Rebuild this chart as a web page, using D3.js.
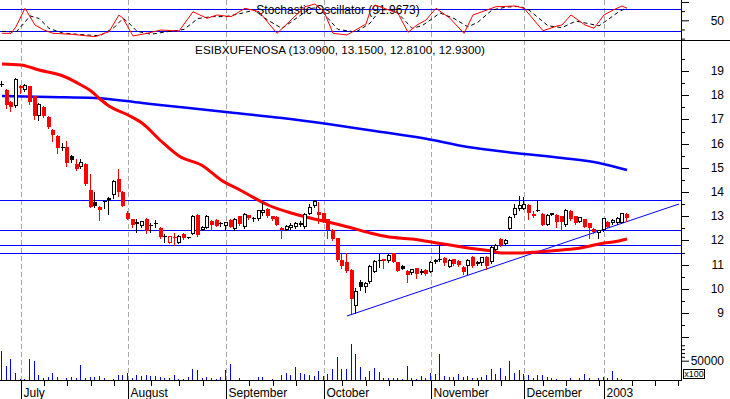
<!DOCTYPE html>
<html>
<head>
<meta charset="utf-8">
<script src="https://cdn.jsdelivr.net/npm/d3@7"></script>
<style>
  body { margin: 0; background: #fff; }
  svg { display: block; font-family: "Liberation Sans", Arial, sans-serif; }
</style>
</head>
<body>
<svg id="chart" width="730" height="399"></svg>
<script>
// daily bars, late June 2002 .. early January 2003 (trading-day index 0..134)
const opens = [18.43,18.20,17.71,17.54,18.29,18.23,18.37,17.96,17.13,17.52,17.10,16.58,16.33,15.84,15.86,15.47,15.17,15.03,15.17,14.09,
  13.60,13.40,13.60,13.65,13.86,14.55,14.02,13.15,12.88,12.67,12.61,12.89,12.60,12.68,12.51,12.14,11.91,12.10,11.91,12.27,
  12.10,12.26,13.06,12.44,12.51,12.80,12.85,12.66,12.61,12.85,12.48,12.99,12.55,13.03,12.87,12.90,13.12,13.30,13.00,12.98,
  12.52,12.44,12.50,12.56,12.62,12.55,13.10,13.44,13.17,13.13,12.88,12.44,12.09,11.19,11.12,10.78,9.30,10.27,10.09,10.30,
  10.71,11.15,11.22,11.15,11.47,11.10,10.95,10.75,10.67,10.85,10.64,10.78,10.71,11.10,11.20,11.26,10.92,11.22,11.15,10.92,
  10.95,11.33,11.02,11.06,11.30,11.10,11.62,12.05,11.86,12.47,13.06,13.29,13.30,13.47,13.02,13.24,13.10,12.64,13.07,13.06,
  12.99,12.64,13.22,12.99,12.78,12.88,12.71,12.47,12.30,12.41,12.78,12.71,12.71,12.72,13.09];
const highs = [18.58,18.26,17.75,18.72,18.44,18.46,18.40,17.98,17.68,17.55,17.12,16.60,16.35,16.03,16.12,15.54,15.36,15.38,15.20,14.74,
  14.00,13.42,13.63,13.78,14.50,14.96,14.05,13.20,12.90,12.89,12.82,12.92,12.72,12.85,12.55,12.26,12.20,12.32,12.21,12.30,
  12.16,13.04,13.08,12.60,13.04,12.86,12.88,12.75,12.78,12.88,12.92,13.00,13.12,13.05,12.98,13.26,13.55,13.32,13.02,13.00,
  12.55,12.62,12.72,12.75,12.80,13.12,13.50,13.65,13.57,13.15,12.90,12.46,12.10,11.45,11.50,10.80,10.05,10.35,10.30,10.98,
  11.20,11.47,11.25,11.42,11.50,11.12,10.98,10.78,10.83,10.88,10.80,10.80,11.15,11.22,11.82,11.30,11.22,11.25,11.18,10.95,
  11.22,11.35,11.15,11.33,11.35,11.78,11.85,12.08,12.04,13.00,13.50,13.82,13.80,13.50,13.20,13.68,13.12,13.08,13.14,13.08,
  13.00,13.28,13.25,13.00,12.98,12.90,12.72,12.50,12.43,12.94,12.80,12.87,12.95,13.15,13.15];
const lows = [18.37,17.48,17.34,17.50,18.10,18.16,17.65,17.02,16.96,17.10,16.65,16.12,15.61,15.72,15.09,15.22,14.92,14.98,14.28,13.38,
  13.40,12.85,13.34,13.10,13.75,13.82,13.42,12.88,12.57,12.33,12.55,12.30,12.35,12.57,12.10,11.95,11.90,11.82,11.89,12.07,
  12.08,12.25,12.20,12.42,12.50,12.44,12.58,12.60,12.42,12.55,12.45,12.65,12.52,12.90,12.82,12.85,13.06,12.98,12.86,12.62,
  12.09,12.42,12.46,12.50,12.58,12.52,13.08,13.40,12.71,12.75,12.09,12.00,11.15,10.85,10.70,8.99,9.00,9.95,9.85,10.25,
  10.68,10.92,10.86,11.12,11.10,10.72,10.80,10.30,10.60,10.45,10.60,10.55,10.68,11.05,11.15,11.00,10.90,11.00,10.95,10.60,
  10.60,10.90,11.00,11.00,10.80,11.08,11.60,11.78,11.84,12.44,12.95,13.25,13.28,12.88,12.98,13.20,12.62,12.62,13.05,12.57,
  12.44,12.60,12.85,12.68,12.75,12.55,12.09,12.30,12.10,12.38,12.55,12.68,12.68,12.70,12.81];
const closes = [18.45,17.61,17.50,18.69,18.40,18.44,17.71,17.13,17.65,17.13,16.67,16.37,15.82,15.87,15.20,15.34,14.95,15.22,14.31,13.40,
  13.43,13.24,13.62,13.76,14.47,14.02,13.44,12.90,12.62,12.76,12.80,12.37,12.64,12.71,12.13,12.18,12.17,12.15,12.19,12.09,
  12.13,13.02,12.23,12.57,13.02,12.62,12.60,12.72,12.76,12.57,12.89,12.68,13.09,12.92,12.93,13.24,13.27,13.00,12.88,12.64,
  12.42,12.60,12.65,12.71,12.72,13.10,13.38,13.62,13.03,12.78,12.44,12.04,11.19,10.95,10.75,9.58,9.90,10.09,10.23,10.95,
  11.15,11.18,11.13,11.40,11.12,10.74,10.82,10.55,10.81,10.62,10.75,10.60,11.12,11.19,11.25,11.08,11.19,11.03,10.99,10.71,
  11.19,10.95,11.10,11.30,10.95,11.73,11.82,11.80,12.02,12.96,13.34,13.47,13.50,13.12,13.10,13.25,12.64,13.06,13.12,12.78,
  12.76,13.24,12.88,12.71,12.96,12.57,12.52,12.33,12.41,12.92,12.57,12.85,12.92,13.13,12.93];
// volume, in units of 100 shares
const volumes = [75900,37000,54400,17400,2000,1500,54400,49200,13000,4400,8600,19000,8600,1000,6000,8600,6000,38900,6000,8600,
  8600,10400,6000,1000,2600,13000,13000,19000,6000,13000,10400,13000,11200,10400,8600,6000,6000,13000,2600,2600,
  8600,28500,25900,6000,8600,6000,2600,8600,25900,41500,1000,6000,1000,1000,1000,8600,8600,1000,2600,1000,
  13000,19000,13000,33700,19000,15500,13000,11200,23300,10400,16300,28500,59600,28500,28500,93300,67400,33700,8600,23300,
  31900,21500,6000,4400,6000,6000,2600,37000,6000,2600,11200,6000,19000,14700,67400,11200,8600,8600,16300,8600,
  11200,6000,6000,8600,13000,28500,16300,31900,11200,49200,19000,25900,14700,13000,6000,13000,13000,8600,4400,2600,
  1000,1000,4400,1000,4400,16300,6000,1000,4400,8600,4400,23300,4400,2600,1000];

// moving averages: [bar index, value]
const maShort = [[0,19.30],[4,19.23],[8,19.06],[13,18.78],[17,18.44],[19,18.16],[21,17.84],[23,17.54],[27,17.20],[30,16.86],
  [34,16.09],[38,15.47],[43,15.06],[47,14.51],[51,14.09],[53,13.89],[57,13.47],[62,13.13],[66,12.92],[70,12.78],
  [75,12.51],[79,12.30],[83,12.16],[88,12.06],[92,11.95],[96,11.82],[100,11.70],[105,11.58],[107,11.50],[111,11.50],
  [115,11.54],[120,11.61],[124,11.68],[126,11.77],[129,11.89],[131,11.95],[134,12.05]];
const maLong = [[0,17.96],[10,17.94],[20,17.90],[30,17.68],[40,17.49],[50,17.28],[60,17.07],[70,16.83],[80,16.54],
  [90,16.25],[100,15.87],[110,15.63],[120,15.42],[128,15.21],[134,14.92]];

// stochastic oscillator: %K (red) and %D (dashed)
const stochK = [[0,14.5],[2,14.5],[3,32.5],[5,82.7],[7,37.2],[9,23.5],[11,14.5],[15,11.8],[20,5.3],[23,18.9],[25,64.5],
  [26,55.5],[28,7.2],[31,14.5],[34,23.5],[38,20.8],[41,73.5],[44,55.5],[46,64.5],[49,59.8],[52,82.7],[55,73.5],[59,14.5],
  [62,50.8],[65,87],[67,94.5],[69,73.5],[71,14.5],[74,10],[78,40],[79,73.5],[80,91.7],[85,69],[87,17.3],[89,37.2],[91,50.8],
  [93,82.7],[96,55.5],[99,14.5],[101,64.5],[106,87],[110,89],[112,82.7],[116,21.6],[119,34.5],[120,37.2],[122,64.5],
  [125,37.2],[127,28.2],[129,64.5],[131,78],[133,89],[134,82.7]];
const stochD = [[0,20],[3,18],[5,45],[6,62],[8,55],[10,28],[13,15],[18,10],[21,8],[24,30],[26,55],[27,45],[29,20],[32,12],
  [36,20],[39,25],[42,55],[45,60],[48,60],[51,68],[54,78],[57,50],[60,28],[63,55],[66,82],[68,85],[70,55],[72,25],[76,18],
  [79,42],[81,78],[84,80],[86,55],[88,28],[90,35],[92,52],[94,70],[97,55],[100,32],[102,45],[105,78],[108,86],[111,88],
  [113,78],[117,35],[120,30],[123,48],[126,40],[128,35],[130,52],[132,72],[134,85]];

// support / resistance levels and the rising trend line
const levels = [13.67, 12.42, 11.79, 11.47];
const trendLine = [[74, 8.88], [145.2, 13.51]];

// time axis
const monthIdx = [4, 27, 48, 69, 92, 112, 129];
const monthLabels = ["July", "August", "September", "October", "November", "December", "2003"];
const weekIdx = [9, 14, 19, 24, 32, 38, 43, 53, 58, 63, 73, 78, 83, 88, 97, 102, 107, 116, 121, 128, 135, 140, 145];

const W = 730, axisX = 681;
const svg = d3.select('#chart');

const x = d3.scaleLinear().domain([0, 134]).rangeRound([2, 627]);
const y = d3.scaleLinear().domain([9, 19]).rangeRound([313, 71]);
const yS = d3.scaleLinear().domain([20, 80]).range([31.3, 9.3]);
const yV = d3.scaleLinear().domain([0, 50000]).range([380, 360.7]);

// dashed month grid
svg.append('g').selectAll('line').data(monthIdx).join('line')
  .attr('x1', d => x(d) + 0.5).attr('x2', d => x(d) + 0.5)
  .attr('y1', 0).attr('y2', 380)
  .attr('stroke', '#a8a8a8').attr('stroke-dasharray', '5,3');

// ---- stochastic panel
[80, 20].forEach(v => svg.append('line')
  .attr('x1', 0).attr('x2', axisX).attr('y1', Math.round(yS(v)) + 0.5).attr('y2', Math.round(yS(v)) + 0.5)
  .attr('stroke', '#0000ff'));

svg.append('text').attr('x', 338).attr('y', 14).attr('text-anchor', 'middle')
  .attr('font-size', 12).text('Stochastic Oscillator (91.9673)');

const sline = d3.line().x(d => x(d[0])).y(d => yS(d[1]));
svg.append('path').attr('d', sline(stochD)).attr('fill', 'none')
  .attr('stroke', '#000').attr('stroke-dasharray', '4,3');
svg.append('path').attr('d', sline(stochK)).attr('fill', 'none').attr('stroke', '#ff0000');

// ---- price panel
svg.append('text').attr('x', 340).attr('y', 54).attr('text-anchor', 'middle')
  .attr('font-size', 11.7).text('ESIBXUFENOSA (13.0900, 13.1500, 12.8100, 12.9300)');

svg.append('g').selectAll('line').data(levels).join('line')
  .attr('x1', 0).attr('x2', axisX)
  .attr('y1', d => Math.round(y(d)) + 0.5).attr('y2', d => Math.round(y(d)) + 0.5)
  .attr('stroke', '#0000ff');

const line = d3.line().x(d => x(d[0])).y(d => y(d[1]));
const smooth = d3.line().x(d => x(d[0])).y(d => y(d[1])).curve(d3.curveMonotoneX);
svg.append('path').attr('d', line(trendLine)).attr('stroke', '#0000ff').attr('fill', 'none');
svg.append('path').attr('d', smooth(maLong)).attr('stroke', '#0000ff').attr('stroke-width', 2.5).attr('fill', 'none');
svg.append('path').attr('d', smooth(maShort)).attr('stroke', '#ff0000').attr('stroke-width', 3).attr('fill', 'none');

const candles = svg.append('g').attr('shape-rendering', 'crispEdges');
opens.forEach((o, i) => {
  const c = closes[i];
  const col = (i === 0 || c >= closes[i - 1]) ? '#000' : '#ff0000';
  const cx = x(i);
  const top = y(Math.max(o, c)), bot = y(Math.min(o, c));
  candles.append('line').attr('x1', cx - 0.5).attr('x2', cx - 0.5)
    .attr('y1', y(highs[i])).attr('y2', y(lows[i]) + 1).attr('stroke', col);
  if (bot - top < 2) {
    candles.append('rect').attr('x', cx - 2).attr('y', top).attr('width', 4).attr('height', Math.max(bot - top, 1) + (c < o ? 1 : 0))
      .attr('fill', col);
  } else if (c > o) {
    candles.append('rect').attr('x', cx - 1.5).attr('y', top + 0.5).attr('width', 3).attr('height', bot - top - 1)
      .attr('fill', '#fff').attr('stroke', col);
  } else {
    candles.append('rect').attr('x', cx - 2).attr('y', top).attr('width', 4).attr('height', bot - top)
      .attr('fill', col);
  }
});

// ---- volume
svg.append('g').attr('shape-rendering', 'crispEdges').selectAll('line').data(volumes).join('line')
  .attr('x1', (d, i) => x(i) - 0.5).attr('x2', (d, i) => x(i) - 0.5)
  .attr('y1', 380).attr('y2', d => Math.round(yV(d)))
  .attr('stroke', '#0000ff');

// ---- frame
svg.append('line').attr('x1', 0).attr('x2', W).attr('y1', 40.5).attr('y2', 40.5).attr('stroke', '#000');
svg.append('line').attr('x1', axisX + 0.5).attr('x2', axisX + 0.5).attr('y1', 0).attr('y2', 380).attr('stroke', '#000');

// right axes
const rAxis = (scale, major, minor, fmt) => {
  const g = svg.append('g').attr('transform', `translate(${axisX},0)`);
  g.append('g').call(d3.axisRight(scale).tickValues(minor).tickSize(4).tickSizeOuter(0).tickFormat(''));
  const mg = g.append('g').call(d3.axisRight(scale).tickValues(major).tickSize(8).tickSizeOuter(0).tickFormat(fmt));
  g.selectAll('.domain').remove();
  g.selectAll('line').attr('stroke', '#000');
  mg.selectAll('text').attr('x', 43).attr('text-anchor', 'end')
    .attr('font-size', 12).attr('font-family', '"Liberation Sans", Arial, sans-serif').attr('fill', '#000');
};
rAxis(y, d3.range(8, 20), d3.range(8.5, 20, 1), d => d >= 9 ? d : '');
rAxis(yS, [50, 100], [0, 25, 75], d => d === 50 ? d : '');
rAxis(yV, [50000], [60000, 70000, 80000, 90000], d => d);

svg.append('rect').attr('x', 683.5).attr('y', 369.5).attr('width', 21).attr('height', 9)
  .attr('fill', '#fff').attr('stroke', '#000');
svg.append('text').attr('x', 694).attr('y', 377).attr('text-anchor', 'middle').attr('font-size', 9).text('x100');

// bottom axis
const xb = svg.append('g').attr('transform', 'translate(0,380)');
xb.append('line').attr('x1', 0).attr('x2', axisX + 1).attr('y1', 0.5).attr('y2', 0.5).attr('stroke', '#000');
xb.append('g').call(d3.axisBottom(x).tickValues(weekIdx).tickSize(6).tickSizeOuter(0).tickFormat(''));
const mt = xb.append('g').call(d3.axisBottom(x).tickValues(monthIdx).tickSize(19).tickSizeOuter(0)
  .tickFormat((d, i) => monthLabels[i]));
xb.selectAll('.domain').remove();
xb.selectAll('line').attr('stroke', '#000');
mt.selectAll('text').attr('x', 2).attr('y', 16.5).attr('dy', null).attr('text-anchor', 'start')
  .attr('font-size', 12).attr('font-family', '"Liberation Sans", Arial, sans-serif').attr('fill', '#000');
</script>
</body>
</html>
